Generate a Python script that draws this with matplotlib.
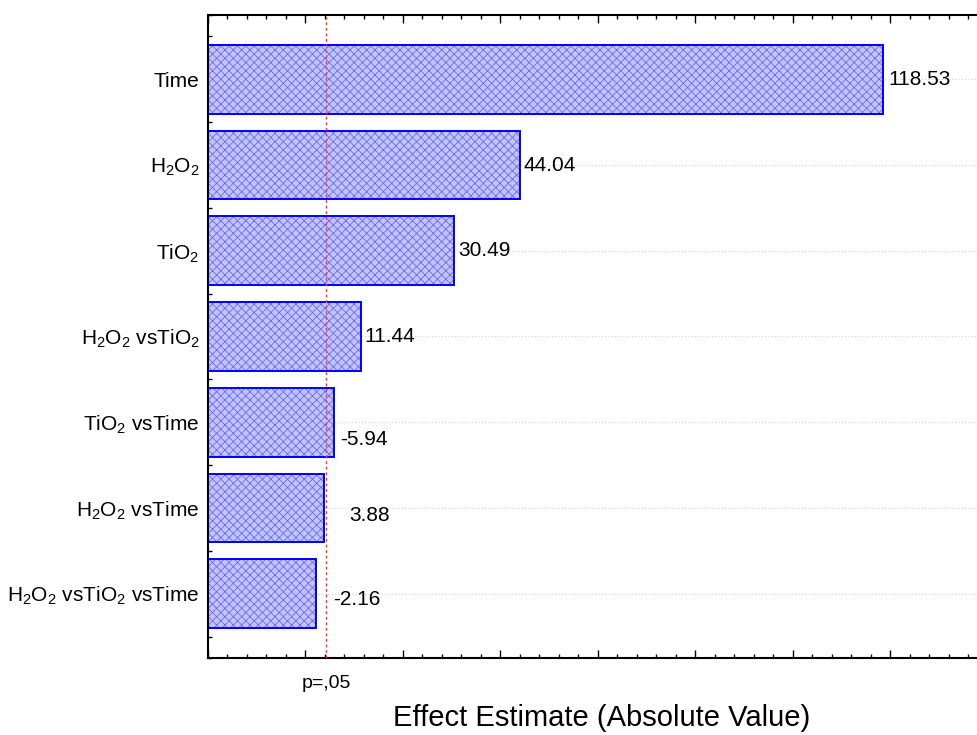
import numpy as np
import matplotlib.pyplot as plt
from matplotlib.ticker import MultipleLocator, NullFormatter
import matplotlib.transforms as mtransforms

plt.rcParams['font.family'] = ['Liberation Sans', 'DejaVu Sans']
plt.rcParams['mathtext.fontset'] = 'custom'
plt.rcParams['mathtext.rm'] = 'Liberation Sans'
plt.rcParams['mathtext.it'] = 'Liberation Sans'
plt.rcParams['hatch.linewidth'] = 0.6

# effects, top to bottom
factors = ['Time', r'H$_2$O$_2$', r'TiO$_2$', r'H$_2$O$_2$ vsTiO$_2$',
           r'TiO$_2$ vsTime', r'H$_2$O$_2$ vsTime', r'H$_2$O$_2$ vsTiO$_2$ vsTime']
effects = [118.53, 44.04, 30.49, 11.44, -5.94, 3.88, -2.16]
p_crit = 4.303
p_label = 'p=,05'

# label nudges in pixels (dx, dy)
label_offsets = [(5, 0), (3, 0), (4, 0), (3, 0), (6, -17), (25, -8), (17, -6)]

xmin, xmax = -20, 137.8

fig = plt.figure(figsize=(9.77, 7.35), dpi=100)
ax = fig.add_axes([208/977, 1-658/735, 1-208/977, (658-15)/735])

ypos = np.arange(len(factors))
vals = np.abs(np.array(effects))

for y in ypos:
    ax.plot([xmin, xmax], [y, y], color='0.82', linewidth=0.8, linestyle=(0, (1, 2)), zorder=1)

# hatched fill, then the outline on top
ax.barh(ypos, vals - xmin, left=xmin, height=0.8, color='#c4c4fc',
        edgecolor='#6a6af5', hatch='xxxx', linewidth=0, zorder=2)
ax.barh(ypos, vals - xmin, left=xmin, height=0.8, fill=False,
        edgecolor='#0000ff', linewidth=1.4, zorder=2.5)

ax.axvline(p_crit, color='#ff3030', linewidth=1.0, linestyle=(0, (2, 2)), zorder=3)

for y, v, e, off in zip(ypos, vals, effects, label_offsets):
    ax.annotate('%.2f' % e, xy=(v, y), xytext=off, textcoords='offset pixels',
                ha='left', va='center', fontsize=15)

ax.set_xlim(xmin, xmax)
ax.set_ylim(len(factors) - 0.25, -0.75)

ax.set_yticks(ypos)
ax.set_yticklabels(factors, fontsize=15)
ax.yaxis.set_minor_locator(MultipleLocator(0.25))
ax.xaxis.set_major_locator(MultipleLocator(20))
ax.xaxis.set_minor_locator(MultipleLocator(4))
ax.xaxis.set_major_formatter(NullFormatter())

ax.tick_params(axis='both', which='both', direction='in', color='black')
ax.tick_params(axis='x', which='both', top=True, bottom=True)
ax.tick_params(axis='y', which='both', left=True, right=False, pad=6)
ax.tick_params(which='major', length=6, width=1)
ax.tick_params(which='minor', length=3, width=1)

for s in ['left', 'bottom', 'top']:
    ax.spines[s].set_linewidth(1.5)
ax.spines['right'].set_visible(False)

trans = mtransforms.blended_transform_factory(ax.transData, fig.transFigure)
ax.text(p_crit, 1 - 683/735, p_label, transform=trans, ha='center', va='center', fontsize=14)

fig.text(602/977, 1 - 718/735, 'Effect Estimate (Absolute Value)', ha='center', va='center', fontsize=21)

fig.savefig('out.png', dpi=100)
